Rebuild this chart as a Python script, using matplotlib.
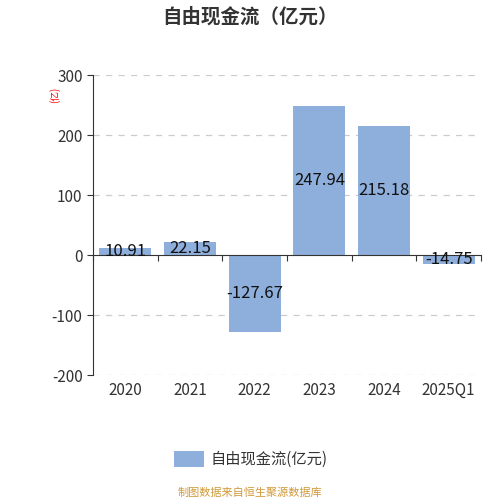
import matplotlib.pyplot as plt
import numpy as np

plt.rcParams['font.family'] = ['Noto Sans CJK SC', 'DejaVu Sans']

categories = ['2020', '2021', '2022', '2023', '2024', '2025Q1']
values = [10.91, 22.15, -127.67, 247.94, 215.18, -14.75]
yticks = [-200, -100, 0, 100, 200, 300]

bar_color = '#8eafdc'
axis_color = '#333333'

fig = plt.figure(figsize=(5, 5), dpi=100)
ax = fig.add_axes([0.186, 0.25, 0.776, 0.60])

x = np.arange(len(categories))
ax.bar(x, values, width=0.8, color=bar_color, zorder=2)

for xi, v in zip(x, values):
    ax.text(xi, v / 2, f'{v:.2f}', ha='center', va='center', fontsize=12, color='#111111', zorder=3)

ax.set_xlim(-0.5, len(categories) - 0.5)
ax.set_ylim(-200, 300)
ax.set_yticks(yticks)
ax.set_yticklabels([str(t) for t in yticks], fontsize=11, color=axis_color)
for t in yticks:
    if t != 0:
        ax.axhline(t, color='#cccccc', linestyle=(0, (5, 5)), linewidth=0.9, zorder=1)

# x axis drawn at zero with ticks between categories
ax.spines['top'].set_visible(False)
ax.spines['right'].set_visible(False)
ax.spines['bottom'].set_position(('data', 0))
ax.spines['bottom'].set_color(axis_color)
ax.spines['left'].set_color(axis_color)
ax.set_xticks(np.arange(len(categories) + 1) - 0.5)
ax.set_xticklabels([])
ax.tick_params(axis='x', direction='out', length=4, color=axis_color)
ax.tick_params(axis='y', direction='out', length=4, color=axis_color)
for xi, c in zip(x, categories):
    ax.text(xi, -211, c, ha='center', va='top', fontsize=11, color=axis_color)

ax.text(-0.098, 0.933, '(亿)', transform=ax.transAxes, rotation=90, ha='center', va='center',
        fontsize=7, color='red')

fig.text(0.5, 0.967, '自由现金流（亿元）', ha='center', va='center', fontsize=14,
         fontweight='bold', color=axis_color)

fig.patches.append(plt.Rectangle((0.348, 0.067), 0.06, 0.032, transform=fig.transFigure,
                                 facecolor=bar_color, edgecolor='none'))
fig.text(0.422, 0.082, '自由现金流(亿元)', ha='left', va='center', fontsize=11, color=axis_color)

fig.text(0.5, 0.014, '制图数据来自恒生聚源数据库', ha='center', va='center', fontsize=8, color='#d09a3a')

fig.savefig('out.png', dpi=100)
